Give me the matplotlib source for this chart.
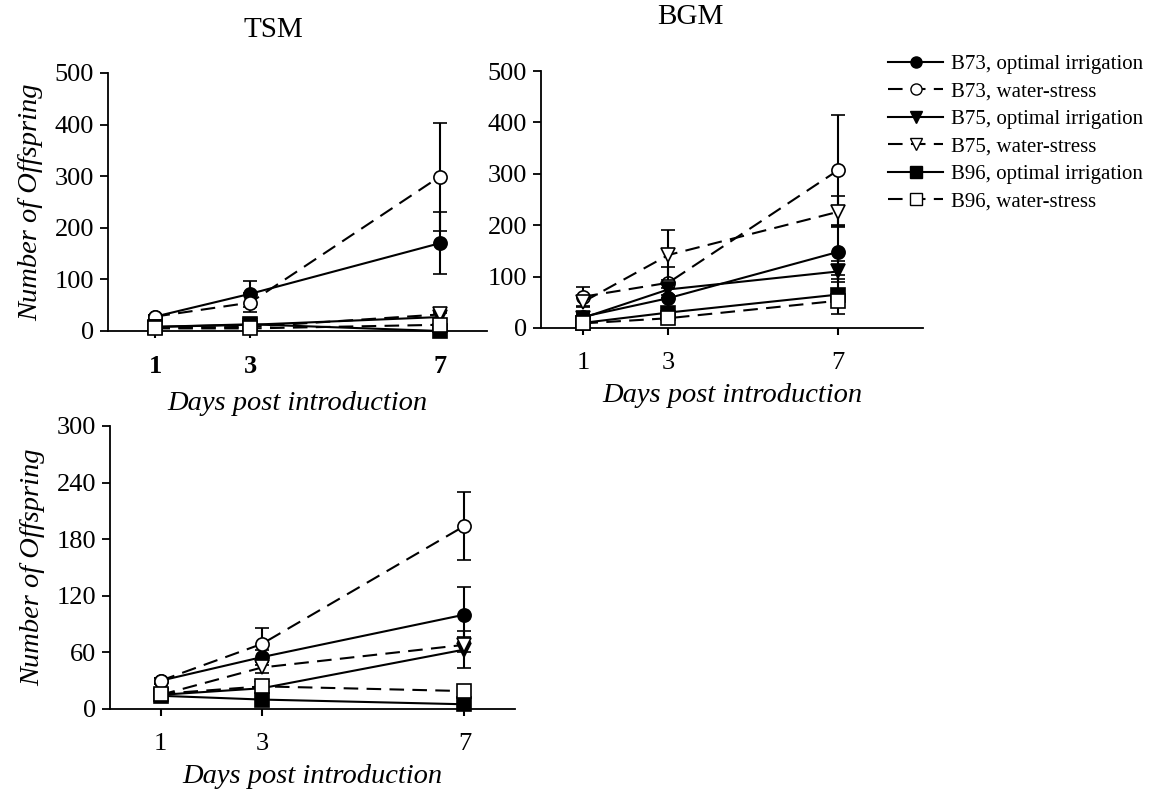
import matplotlib
matplotlib.use("Agg")
import matplotlib.pyplot as plt
from matplotlib.lines import Line2D

plt.rcParams['font.family'] = ['Liberation Serif', 'DejaVu Serif']

days = [1, 3, 7]
series_names = ["B73, optimal irrigation", "B73, water-stress",
                "B75, optimal irrigation", "B75, water-stress",
                "B96, optimal irrigation", "B96, water-stress"]

# TSM panel
tsm_mean = [[28, 72, 170], [28, 55, 299], [8, 12, 27],
            [6, 8, 32], [8, 13, 0], [5, 5, 12]]
tsm_err = [[3, 25, 60], [3, 19, 105], [2, 3, 8],
           [2, 3, 12], [2, 3, 1], [2, 2, 4]]

# BGM panel
bgm_mean = [[22, 58, 148], [61, 88, 307], [20, 75, 110],
            [51, 142, 226], [10, 30, 65], [9, 19, 53]]
bgm_err = [[5, 20, 52], [19, 30, 108], [5, 10, 20],
           [10, 49, 30], [3, 5, 38], [3, 5, 10]]

# bottom panel
low_mean = [[30, 55, 100], [30, 69, 194], [15, 22, 63],
            [15, 44, 68], [14, 10, 5], [16, 24, 19]]
low_err = [[3, 8, 29], [3, 17, 36], [2, 4, 20],
           [2, 6, 8], [2, 3, 2], [2, 4, 5]]

markers = ['o', 'o', 'v', 'v', 's', 's']
filled = [True, False, True, False, True, False]
styles = ['-', (0, (7, 4)), '-', (0, (7, 4)), '-', (0, (7, 4))]

TICK_FS = 19
LABEL_FS = 20.5

fig = plt.figure(figsize=(11.53, 7.89), dpi=100)


def draw_panel(rect, means, errs, xmax, ymax, ystep, xlabelpad, bold_x=False):
    ax = fig.add_axes(rect)
    for i in range(len(means)):
        fc = 'black' if filled[i] else 'white'
        ax.errorbar(days, means[i], yerr=errs[i], color='black', lw=1.5,
                    linestyle=styles[i], marker=markers[i], markersize=9.5,
                    markerfacecolor=fc, markeredgecolor='black', mew=1.2,
                    capsize=5, elinewidth=1.5, capthick=1.5, clip_on=False,
                    zorder=3 + i)
        if not filled[i]:
            ax.plot(days, means[i], linestyle='none', marker='.', markersize=2,
                    color='black', clip_on=False, zorder=3 + i)
    ax.set_xlim(0, xmax)
    ax.set_ylim(0, ymax)
    ax.set_xticks(days)
    ax.set_yticks(range(0, ymax + 1, ystep))
    for s in ['top', 'right']:
        ax.spines[s].set_visible(False)
    for s in ['left', 'bottom']:
        ax.spines[s].set_linewidth(1.3)
    ax.tick_params(axis='y', direction='out', length=6, width=1.3,
                   labelsize=TICK_FS, pad=4)
    ax.tick_params(axis='x', direction='out', length=5, width=1.5,
                   labelsize=TICK_FS, pad=12)
    if bold_x:
        for t in ax.get_xticklabels():
            t.set_fontweight('bold')
    ax.set_xlabel("Days post introduction", fontsize=LABEL_FS, style='italic',
                  labelpad=xlabelpad)
    return ax


ax1 = draw_panel([0.0937, 0.5805, 0.3287, 0.327], tsm_mean, tsm_err, 8, 500, 100,
                 10, bold_x=True)
ax1.set_ylabel("Number of Offspring", fontsize=LABEL_FS, style='italic', labelpad=8)

ax2 = draw_panel([0.4692, 0.5843, 0.3313, 0.3257], bgm_mean, bgm_err, 9, 500, 100, 7)

ax3 = draw_panel([0.0954, 0.1014, 0.3513, 0.3587], low_mean, low_err, 8, 300, 60, 7)
ax3.set_ylabel("Number of Offspring", fontsize=LABEL_FS, style='italic', labelpad=8)

fig.text(273 / 1153, 1 - 30 / 789, "TSM", fontsize=21, ha='center', va='center')
fig.text(690 / 1153, 1 - 17 / 789, "BGM", fontsize=21, ha='center', va='center')

handles = []
for i in range(6):
    fc = 'black' if filled[i] else 'white'
    handles.append(Line2D([], [], color='black', lw=1.5, linestyle=styles[i],
                          marker=markers[i], markersize=8, markerfacecolor=fc,
                          markeredgecolor='black'))
fig.legend(handles, series_names, loc='upper left',
           bbox_to_anchor=(878 / 1153, 1 - 44 / 789), frameon=False,
           fontsize=15, handlelength=2.6, handletextpad=0.4, labelspacing=0.38,
           borderpad=0)

fig.savefig("out.png", dpi=100)
